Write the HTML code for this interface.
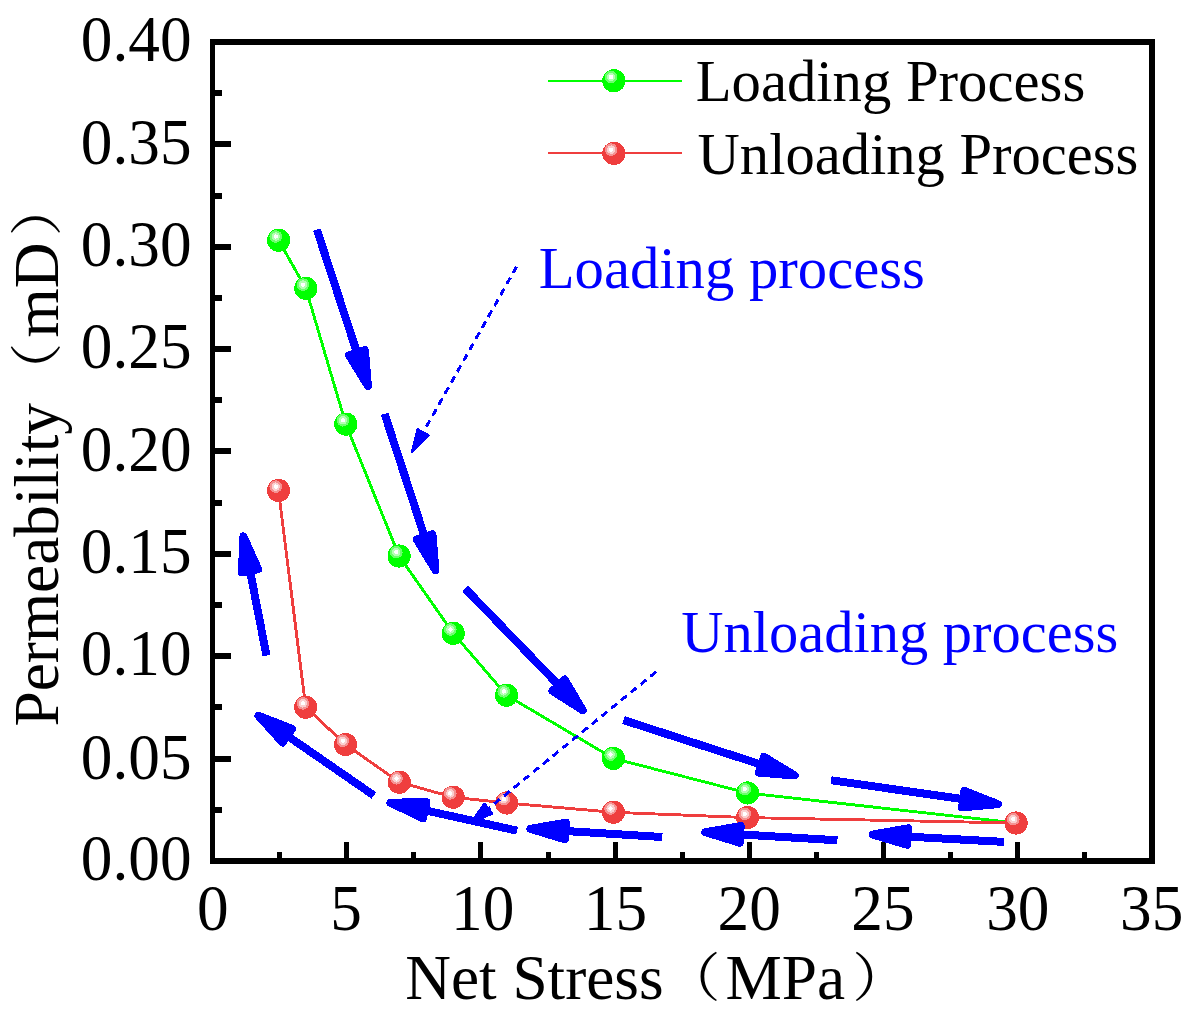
<!DOCTYPE html>
<html lang="en"><head><meta charset="utf-8"><title>Permeability vs Net Stress</title>
<style>
html,body{margin:0;padding:0;background:#fff}
body{width:1194px;height:1014px;overflow:hidden}
svg{display:block}
text{font-family:"Liberation Serif","Noto Serif CJK SC",serif}
.ax{font-size:63.3px;fill:#000}
.lg{font-size:58.7px;fill:#000}
.an{font-size:58.7px;fill:#0000ff}
.cj{font-family:"Noto Serif CJK SC","Noto Sans CJK SC",serif}
</style></head>
<body>
<svg width="1194" height="1014" viewBox="0 0 1194 1014">
<rect width="1194" height="1014" fill="#fff"/>
<g fill="#000" shape-rendering="crispEdges">
<rect x="210" y="39" width="945" height="6"/><rect x="210" y="858" width="945" height="6"/><rect x="210" y="39" width="5" height="825"/><rect x="1149" y="39" width="6" height="825"/>
<rect x="215" y="807" width="7" height="6"/><rect x="215" y="756" width="16" height="6"/><rect x="215" y="704" width="7" height="6"/><rect x="215" y="653" width="16" height="6"/><rect x="215" y="602" width="7" height="6"/><rect x="215" y="551" width="16" height="6"/><rect x="215" y="500" width="7" height="6"/><rect x="215" y="448" width="16" height="6"/><rect x="215" y="397" width="7" height="6"/><rect x="215" y="346" width="16" height="6"/><rect x="215" y="295" width="7" height="6"/><rect x="215" y="244" width="16" height="6"/><rect x="215" y="193" width="7" height="6"/><rect x="215" y="141" width="16" height="6"/><rect x="215" y="90" width="7" height="6"/>
<rect x="277" y="852" width="5" height="6"/><rect x="344" y="842" width="5" height="16"/><rect x="411" y="852" width="5" height="6"/><rect x="478" y="842" width="5" height="16"/><rect x="546" y="852" width="5" height="6"/><rect x="613" y="842" width="5" height="16"/><rect x="680" y="852" width="5" height="6"/><rect x="747" y="842" width="5" height="16"/><rect x="814" y="852" width="5" height="6"/><rect x="881" y="842" width="5" height="16"/><rect x="948" y="852" width="5" height="6"/><rect x="1015" y="842" width="5" height="16"/><rect x="1082" y="852" width="5" height="6"/>
</g>
<g class="ax">
<text transform="translate(191.6,880.0) scale(1,1.021)" text-anchor="end">0.00</text><text transform="translate(191.6,779.2) scale(1,1.021)" text-anchor="end">0.05</text><text transform="translate(191.6,675.4) scale(1,1.021)" text-anchor="end">0.10</text><text transform="translate(191.6,572.8) scale(1,1.021)" text-anchor="end">0.15</text><text transform="translate(191.6,471.1) scale(1,1.021)" text-anchor="end">0.20</text><text transform="translate(191.6,368.1) scale(1,1.021)" text-anchor="end">0.25</text><text transform="translate(191.6,266.4) scale(1,1.021)" text-anchor="end">0.30</text><text transform="translate(191.6,164.3) scale(1,1.021)" text-anchor="end">0.35</text><text transform="translate(191.6,60.6) scale(1,1.021)" text-anchor="end">0.40</text>
<text transform="translate(212.8,929.8) scale(1,1.021)" text-anchor="middle">0</text><text transform="translate(346.0,929.8) scale(1,1.021)" text-anchor="middle">5</text><text transform="translate(482.7,929.8) scale(1,1.021)" text-anchor="middle">10</text><text transform="translate(615.4,929.8) scale(1,1.021)" text-anchor="middle">15</text><text transform="translate(749.2,929.8) scale(1,1.021)" text-anchor="middle">20</text><text transform="translate(882.9,929.8) scale(1,1.021)" text-anchor="middle">25</text><text transform="translate(1017.8,929.8) scale(1,1.021)" text-anchor="middle">30</text><text transform="translate(1151.7,929.8) scale(1,1.021)" text-anchor="middle">35</text>
<text x="405.2" y="998.6">Net Stress</text><text class="cj" transform="translate(663.2,995.9) scale(0.905,0.83)">（</text><text x="725.6" y="998.6">MPa</text><text class="cj" transform="translate(852.3,995.9) scale(0.905,0.83)">）</text>
<g transform="translate(58.3,0) rotate(-90)"><text x="-726.5" y="0">Permeability</text><text class="cj" transform="translate(-400,-3) scale(0.905,0.83)">（</text><text x="-337.4" y="0">mD</text><text class="cj" transform="translate(-236.3,-3) scale(0.905,0.83)">）</text></g>
</g>
<g fill="none" stroke-width="2.9" shape-rendering="crispEdges">
<polyline points="278.6,240.3 305.8,288.4 345.8,424.1 399.1,556.0 453.2,633.3 506.5,695.2 613.4,758.4 747.5,793.0 1016.1,823.0" stroke="#00ff00"/>
<line x1="548" y1="80.8" x2="682" y2="80.8" stroke="#00ff00" stroke-width="2"/>
</g>
<g shape-rendering="crispEdges"><g transform="translate(278.6,240.3)"><circle r="11.6" fill="#00ff00"/><circle cx="-2.8" cy="-3.8" r="6.3" fill="#6cff6c"/><circle cx="-2.8" cy="-3.8" r="4.2" fill="#b4ffb4"/><circle cx="-2.8" cy="-3.8" r="2.2" fill="#fff"/></g><g transform="translate(305.8,288.4)"><circle r="11.6" fill="#00ff00"/><circle cx="-2.8" cy="-3.8" r="6.3" fill="#6cff6c"/><circle cx="-2.8" cy="-3.8" r="4.2" fill="#b4ffb4"/><circle cx="-2.8" cy="-3.8" r="2.2" fill="#fff"/></g><g transform="translate(345.8,424.1)"><circle r="11.6" fill="#00ff00"/><circle cx="-2.8" cy="-3.8" r="6.3" fill="#6cff6c"/><circle cx="-2.8" cy="-3.8" r="4.2" fill="#b4ffb4"/><circle cx="-2.8" cy="-3.8" r="2.2" fill="#fff"/></g><g transform="translate(399.1,556.0)"><circle r="11.6" fill="#00ff00"/><circle cx="-2.8" cy="-3.8" r="6.3" fill="#6cff6c"/><circle cx="-2.8" cy="-3.8" r="4.2" fill="#b4ffb4"/><circle cx="-2.8" cy="-3.8" r="2.2" fill="#fff"/></g><g transform="translate(453.2,633.3)"><circle r="11.6" fill="#00ff00"/><circle cx="-2.8" cy="-3.8" r="6.3" fill="#6cff6c"/><circle cx="-2.8" cy="-3.8" r="4.2" fill="#b4ffb4"/><circle cx="-2.8" cy="-3.8" r="2.2" fill="#fff"/></g><g transform="translate(506.5,695.2)"><circle r="11.6" fill="#00ff00"/><circle cx="-2.8" cy="-3.8" r="6.3" fill="#6cff6c"/><circle cx="-2.8" cy="-3.8" r="4.2" fill="#b4ffb4"/><circle cx="-2.8" cy="-3.8" r="2.2" fill="#fff"/></g><g transform="translate(613.4,758.4)"><circle r="11.6" fill="#00ff00"/><circle cx="-2.8" cy="-3.8" r="6.3" fill="#6cff6c"/><circle cx="-2.8" cy="-3.8" r="4.2" fill="#b4ffb4"/><circle cx="-2.8" cy="-3.8" r="2.2" fill="#fff"/></g><g transform="translate(747.5,793.0)"><circle r="11.6" fill="#00ff00"/><circle cx="-2.8" cy="-3.8" r="6.3" fill="#6cff6c"/><circle cx="-2.8" cy="-3.8" r="4.2" fill="#b4ffb4"/><circle cx="-2.8" cy="-3.8" r="2.2" fill="#fff"/></g><g transform="translate(613.9,80.8)"><circle r="11.6" fill="#00ff00"/><circle cx="-2.8" cy="-3.8" r="6.3" fill="#6cff6c"/><circle cx="-2.8" cy="-3.8" r="4.2" fill="#b4ffb4"/><circle cx="-2.8" cy="-3.8" r="2.2" fill="#fff"/></g></g>
<g fill="none" stroke-width="2.9" shape-rendering="crispEdges">
<polyline points="278.5,490.4 305.7,707.2 345.6,744.5 399.3,782.2 453.1,797.2 506.6,803.0 613.4,812.3 747.5,817.6 1016.1,823.0" stroke="#ef3e3e"/>
<line x1="548" y1="153.4" x2="682" y2="153.4" stroke="#ef3e3e" stroke-width="2"/>
</g>
<g shape-rendering="crispEdges"><g transform="translate(278.5,490.4)"><circle r="11.6" fill="#ef3e3e"/><circle cx="-2.8" cy="-3.8" r="6.3" fill="#f59292"/><circle cx="-2.8" cy="-3.8" r="4.2" fill="#fad0d0"/><circle cx="-2.8" cy="-3.8" r="2.2" fill="#fff"/></g><g transform="translate(305.7,707.2)"><circle r="11.6" fill="#ef3e3e"/><circle cx="-2.8" cy="-3.8" r="6.3" fill="#f59292"/><circle cx="-2.8" cy="-3.8" r="4.2" fill="#fad0d0"/><circle cx="-2.8" cy="-3.8" r="2.2" fill="#fff"/></g><g transform="translate(345.6,744.5)"><circle r="11.6" fill="#ef3e3e"/><circle cx="-2.8" cy="-3.8" r="6.3" fill="#f59292"/><circle cx="-2.8" cy="-3.8" r="4.2" fill="#fad0d0"/><circle cx="-2.8" cy="-3.8" r="2.2" fill="#fff"/></g><g transform="translate(399.3,782.2)"><circle r="11.6" fill="#ef3e3e"/><circle cx="-2.8" cy="-3.8" r="6.3" fill="#f59292"/><circle cx="-2.8" cy="-3.8" r="4.2" fill="#fad0d0"/><circle cx="-2.8" cy="-3.8" r="2.2" fill="#fff"/></g><g transform="translate(453.1,797.2)"><circle r="11.6" fill="#ef3e3e"/><circle cx="-2.8" cy="-3.8" r="6.3" fill="#f59292"/><circle cx="-2.8" cy="-3.8" r="4.2" fill="#fad0d0"/><circle cx="-2.8" cy="-3.8" r="2.2" fill="#fff"/></g><g transform="translate(506.6,803.0)"><circle r="11.6" fill="#ef3e3e"/><circle cx="-2.8" cy="-3.8" r="6.3" fill="#f59292"/><circle cx="-2.8" cy="-3.8" r="4.2" fill="#fad0d0"/><circle cx="-2.8" cy="-3.8" r="2.2" fill="#fff"/></g><g transform="translate(613.4,812.3)"><circle r="11.6" fill="#ef3e3e"/><circle cx="-2.8" cy="-3.8" r="6.3" fill="#f59292"/><circle cx="-2.8" cy="-3.8" r="4.2" fill="#fad0d0"/><circle cx="-2.8" cy="-3.8" r="2.2" fill="#fff"/></g><g transform="translate(747.5,817.6)"><circle r="11.6" fill="#ef3e3e"/><circle cx="-2.8" cy="-3.8" r="6.3" fill="#f59292"/><circle cx="-2.8" cy="-3.8" r="4.2" fill="#fad0d0"/><circle cx="-2.8" cy="-3.8" r="2.2" fill="#fff"/></g><g transform="translate(1016.1,823.0)"><circle r="11.6" fill="#ef3e3e"/><circle cx="-2.8" cy="-3.8" r="6.3" fill="#f59292"/><circle cx="-2.8" cy="-3.8" r="4.2" fill="#fad0d0"/><circle cx="-2.8" cy="-3.8" r="2.2" fill="#fff"/></g><g transform="translate(613.9,153.4)"><circle r="11.6" fill="#ef3e3e"/><circle cx="-2.8" cy="-3.8" r="6.3" fill="#f59292"/><circle cx="-2.8" cy="-3.8" r="4.2" fill="#fad0d0"/><circle cx="-2.8" cy="-3.8" r="2.2" fill="#fff"/></g></g>
<text class="lg" x="695.7" y="101.1">Loading Process</text>
<text class="lg" x="697.6" y="173.5" style="font-size:58.55px">Unloading Process</text>
<text class="an" x="538.7" y="287.5">Loading process</text>
<text class="an" x="681.2" y="652.3" style="font-size:58.5px">Unloading process</text>
<g stroke="#0000ff" fill="#0000ff" stroke-linejoin="round" shape-rendering="crispEdges">
<line x1="316.9" y1="229.7" x2="357.0" y2="352.7" stroke-width="8"/><polygon points="367.9,386.0 349.1,355.3 364.9,350.1" stroke-width="8"/>
<line x1="384.6" y1="413.8" x2="424.6" y2="536.8" stroke-width="8"/><polygon points="435.4,570.1 416.7,539.4 432.4,534.2" stroke-width="8"/>
<line x1="465.1" y1="588.4" x2="558.6" y2="685.2" stroke-width="8"/><polygon points="582.9,710.4 552.6,691.0 564.6,679.5" stroke-width="8"/>
<line x1="623.6" y1="720.1" x2="761.4" y2="764.7" stroke-width="8"/><polygon points="794.7,775.5 758.8,772.6 764.0,756.8" stroke-width="8"/>
<line x1="831.0" y1="780.2" x2="963.2" y2="799.2" stroke-width="8"/><polygon points="997.8,804.1 962.0,807.4 964.4,790.9" stroke-width="8"/>
<line x1="1004.0" y1="841.9" x2="907.6" y2="836.6" stroke-width="8"/><polygon points="872.7,834.6 908.1,828.3 907.2,844.8" stroke-width="8"/>
<line x1="837.4" y1="840.3" x2="740.2" y2="834.4" stroke-width="8"/><polygon points="705.3,832.2 740.7,826.1 739.7,842.7" stroke-width="8"/>
<line x1="662.3" y1="837.0" x2="565.3" y2="831.0" stroke-width="8"/><polygon points="530.4,828.8 565.8,822.7 564.8,839.3" stroke-width="8"/>
<line x1="517.1" y1="830.7" x2="424.6" y2="810.2" stroke-width="8"/><polygon points="390.4,802.7 426.4,802.1 422.8,818.3" stroke-width="8"/>
<line x1="373.9" y1="795.5" x2="287.3" y2="735.7" stroke-width="8"/><polygon points="258.5,715.8 292.0,728.8 282.6,742.5" stroke-width="8"/>
<line x1="266.5" y1="655.7" x2="250.0" y2="570.8" stroke-width="8"/><polygon points="243.4,536.4 258.2,569.2 241.9,572.4" stroke-width="8"/>
<line x1="516.6" y1="266.6" x2="423.1" y2="432.5" stroke-width="3" stroke-dasharray="7.4 5.2"/><polygon points="412.3,451.7 417.8,429.5 428.5,435.5" stroke-width="2.6"/>
<line x1="656.1" y1="671.8" x2="488.3" y2="808.7" stroke-width="3" stroke-dasharray="7.4 5.2"/><polygon points="471.2,822.6 484.4,803.9 492.1,813.4" stroke-width="2.6"/>
</g>
</svg>
</body></html>
